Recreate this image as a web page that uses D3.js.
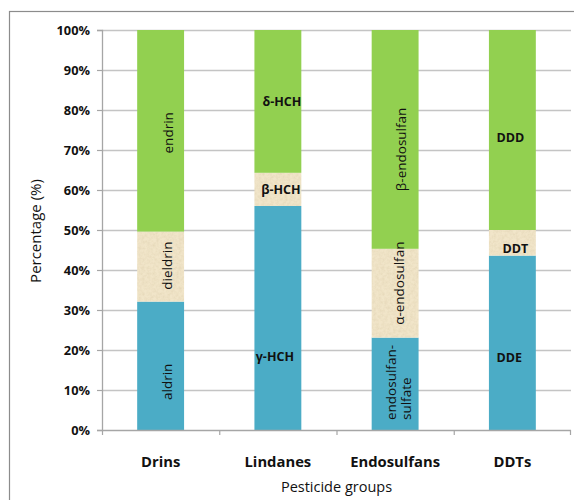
<!DOCTYPE html>
<html>
<head>
<meta charset="utf-8">
<script src="https://cdn.jsdelivr.net/npm/d3@7/dist/d3.min.js"></script>
<style>
  html, body { margin: 0; padding: 0; background: #fff; }
  svg { display: block; }
  text { font-family: "Open Sans", Lato, sans-serif; fill: #111; }
</style>
</head>
<body>
<svg id="chart" width="574" height="500"></svg>
<script>
// Composition of pesticide groups (stacked to 100%)
const categories = ["Drins", "Lindanes", "Endosulfans", "DDTs"];
const bottomValues = [32.1, 56.0, 23.1, 43.6];
const middleValues = [17.5, 8.3, 22.2, 6.4];
const topValues = [50.4, 35.7, 54.7, 50.0];
const bottomLabels = ["aldrin", "γ-HCH", "endosulfan-|sulfate", "DDE"];
const middleLabels = ["dieldrin", "β-HCH", "α-endosulfan", "DDT"];
const topLabels = ["endrin", "δ-HCH", "β-endosulfan", "DDD"];
const yTickValues = [0, 10, 20, 30, 40, 50, 60, 70, 80, 90, 100];
const yTickLabels = ["0%", "10%", "20%", "30%", "40%", "50%", "60%", "70%", "80%", "90%", "100%"];
const yTitle = "Percentage (%)";
const xTitle = "Pesticide groups";

const svg = d3.select("#chart");
const W = 574, H = 500;
const margin = { top: 30, right: 3, bottom: 70, left: 102 };
const innerW = W - margin.left - margin.right;
const innerH = H - margin.top - margin.bottom;

// Paper-like texture for the middle segments
const defs = svg.append("defs");
const noise = defs.append("filter").attr("id", "grain")
  .attr("x", 0).attr("y", 0).attr("width", "100%").attr("height", "100%");
noise.append("feTurbulence").attr("type", "fractalNoise")
  .attr("baseFrequency", 0.35).attr("numOctaves", 3).attr("seed", 4).attr("result", "n");
noise.append("feColorMatrix").attr("in", "n").attr("type", "matrix")
  .attr("values", "0 0 0 0 0.55  0 0 0 0 0.45  0 0 0 0 0.25  0 0 0 -1.1 0.75");
const pat = defs.append("pattern").attr("id", "paper")
  .attr("patternUnits", "userSpaceOnUse").attr("width", 120).attr("height", 120);
pat.append("rect").attr("width", 120).attr("height", 120).attr("fill", "#F1E5C9");
pat.append("rect").attr("width", 120).attr("height", 120).attr("filter", "url(#grain)").attr("opacity", 0.35);

// Outer frame
svg.append("rect")
  .attr("x", 9.5).attr("y", 11.5).attr("width", 700).attr("height", 700)
  .attr("fill", "none").attr("stroke", "#8c8c8c").attr("stroke-width", 1.2);

const g = svg.append("g").attr("transform", `translate(${margin.left},${margin.top})`);

const x = d3.scaleBand().domain(categories).range([0, innerW])
  .paddingInner(0.6).paddingOuter(0.3);
const y = d3.scaleLinear().domain([0, 100]).range([innerH, 0]);

// Horizontal gridlines
g.append("g").selectAll("line").data(yTickValues.filter(v => v > 0)).join("line")
  .attr("x1", 0).attr("x2", innerW)
  .attr("y1", d => Math.round(y(d)) + 0.5).attr("y2", d => Math.round(y(d)) + 0.5)
  .attr("stroke", "#c4c4c4").attr("stroke-width", 1.3);

// Stacked data
const rows = categories.map((c, i) => ({
  cat: c, bottom: bottomValues[i], middle: middleValues[i], top: topValues[i]
}));
const keys = ["bottom", "middle", "top"];
const fills = { bottom: "#4BACC6", middle: "url(#paper)", top: "#92D050" };
const labelSets = { bottom: bottomLabels, middle: middleLabels, top: topLabels };
const stacked = d3.stack().keys(keys)(rows);

const layers = g.append("g").selectAll("g").data(stacked).join("g")
  .attr("fill", d => fills[d.key]);
layers.selectAll("rect").data(d => d).join("rect")
  .attr("x", d => x(d.data.cat))
  .attr("width", x.bandwidth())
  .attr("y", d => y(d[1]))
  .attr("height", d => y(d[0]) - y(d[1]));

// Axes
const yAxis = d3.axisLeft(y).tickValues(yTickValues)
  .tickFormat((d, i) => yTickLabels[i]).tickSize(5).tickPadding(7);
const ya = g.append("g").call(yAxis);
ya.select(".domain").attr("stroke", "#a6a6a6").attr("stroke-width", 1.3);
ya.selectAll(".tick line").attr("stroke", "#a6a6a6").attr("stroke-width", 1.2);
ya.selectAll(".tick text").attr("font-size", 12.8).attr("font-weight", "bold")
  .attr("fill", "#111").style("font-family", "'Open Sans', sans-serif");

// X axis baseline with ticks at category boundaries
const xa = g.append("g").attr("transform", `translate(0,${innerH})`);
xa.append("line").attr("x1", 0).attr("x2", innerW).attr("y1", 0.5).attr("y2", 0.5)
  .attr("stroke", "#a6a6a6").attr("stroke-width", 1.3);
const boundaries = d3.range(categories.length + 1).map(i => i * x.step());
xa.selectAll(".bt").data(boundaries).join("line").attr("class", "bt")
  .attr("x1", d => Math.min(innerW - 0.5, d + 0.5)).attr("x2", d => Math.min(innerW - 0.5, d + 0.5))
  .attr("y1", 0).attr("y2", 5)
  .attr("stroke", "#a6a6a6").attr("stroke-width", 1.2);
xa.selectAll(".cl").data(categories).join("text").attr("class", "cl")
  .attr("x", d => x(d) + x.bandwidth() / 2)
  .attr("y", 37)
  .attr("text-anchor", "middle")
  .attr("font-size", 14.8).attr("font-weight", "bold")
  .text(d => d);

// Axis titles
svg.append("text")
  .attr("transform", `translate(35,${margin.top + innerH / 2 + 1}) rotate(-90)`)
  .attr("text-anchor", "middle").attr("dominant-baseline", "central")
  .attr("font-size", 15).text(yTitle);
svg.append("text")
  .attr("x", margin.left + innerW / 2).attr("y", 492)
  .attr("text-anchor", "middle").attr("font-size", 14.5).text(xTitle);

// Segment labels: vertical for Drins and Endosulfans, horizontal bold for the others.
// Small hand offsets (px) keep each label where it reads best inside its segment.
const verticalCats = new Set(["Drins", "Endosulfans"]);
const labelShift = {
  "aldrin": [6, 16], "dieldrin": [6, -1], "endrin": [7, 2],
  "γ-HCH": [-3, 38], "β-HCH": [3, 0], "δ-HCH": [4, 0],
  "α-endosulfan": [4, -10], "β-endosulfan": [6, 10],
  "DDE": [-3, 15], "DDT": [3, 6], "DDD": [-2, 7]
};
const labelNodes = [];
stacked.forEach(layer => {
  layer.forEach((d, i) => {
    labelNodes.push({
      cat: d.data.cat,
      text: labelSets[layer.key][i],
      cx: x(d.data.cat) + x.bandwidth() / 2,
      cy: (y(d[0]) + y(d[1])) / 2,
      y0: y(d[0])
    });
  });
});
const lab = g.append("g");
labelNodes.forEach(n => {
  const lines = n.text.split("|");
  const [dx, dy] = labelShift[n.text] || [0, 0];
  if (verticalCats.has(n.cat)) {
    if (lines.length === 1) {
      lab.append("text")
        .attr("transform", `translate(${n.cx + dx},${n.cy + dy}) rotate(-90)`)
        .attr("text-anchor", "middle").attr("dominant-baseline", "central")
        .attr("font-size", 13.5).text(lines[0]);
    } else {
      const t = lab.append("text")
        .attr("transform", `translate(${n.cx - 4},${n.y0 - 10}) rotate(-90)`)
        .attr("text-anchor", "start").attr("dominant-baseline", "central")
        .attr("font-size", 13.5);
      lines.forEach((ln, k) => t.append("tspan").attr("x", 0).attr("dy", k === 0 ? 0 : "1.1em").text(ln));
    }
  } else {
    lab.append("text")
      .attr("x", n.cx + dx).attr("y", n.cy + dy)
      .attr("text-anchor", "middle").attr("dominant-baseline", "central")
      .attr("font-size", 12.5).attr("font-weight", "bold").text(lines[0]);
  }
});
</script>
</body>
</html>
